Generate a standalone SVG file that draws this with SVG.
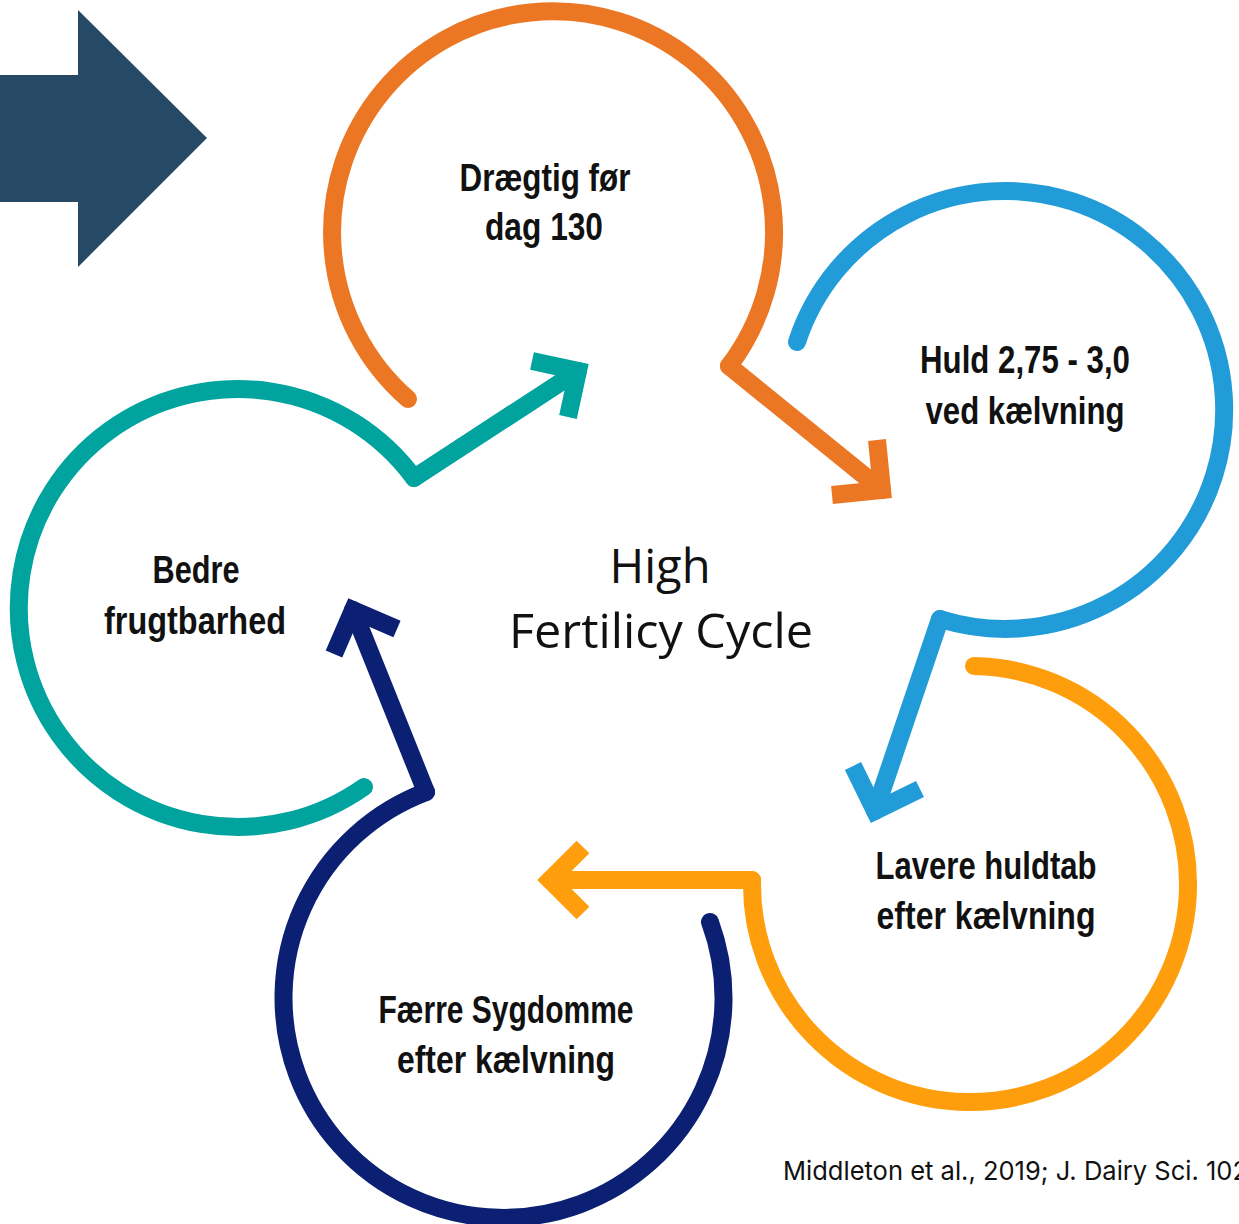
<svg xmlns="http://www.w3.org/2000/svg" width="1239" height="1224" viewBox="0 0 1239 1224">
<style>
.ring{fill:none;stroke-width:18;stroke-linecap:round}
.shaft{fill:none;stroke-width:18;stroke-linecap:round;stroke-linejoin:miter}
.head{fill:none;stroke-width:18;stroke-linecap:butt;stroke-linejoin:miter;stroke-miterlimit:10}
.lbl{font-family:"Liberation Sans Narrow","Liberation Sans",Arial,sans-serif;font-weight:bold;font-size:38px;fill:#111;text-anchor:middle}
.center{font-family:"Open Sans","Noto Sans",sans-serif;font-size:48px;fill:#111;text-anchor:middle}
.cite{font-family:Inter,"Liberation Sans",sans-serif;font-size:26px;fill:#111}
.orange{stroke:#EB7724}.blue{stroke:#219CD9}.gold{stroke:#FF9E0D}.navy{stroke:#0B1F73}.teal{stroke:#00A39D}
</style>
<rect width="1239" height="1224" fill="#fff"/>
<polygon id="big-arrow" points="0,75 78,75 78,10 207,138 78,267 78,202 0,202" fill="#264966"/>

<g id="node-draegtig">
<path class="ring orange" d="M408,399 A221,221 0 1 1 729,366"/>
<text class="lbl" x="545" y="191" textLength="171" lengthAdjust="spacingAndGlyphs">Drægtig før</text>
<text class="lbl" x="544" y="240" textLength="118" lengthAdjust="spacingAndGlyphs">dag 130</text>
</g>

<g id="node-huld">
<path class="ring blue" d="M797,342 A219,219 0 1 1 940,619"/>
<text class="lbl" x="1025" y="373" textLength="210" lengthAdjust="spacingAndGlyphs">Huld 2,75 - 3,0</text>
<text class="lbl" x="1025" y="424" textLength="199" lengthAdjust="spacingAndGlyphs">ved kælvning</text>
</g>

<g id="node-lavere">
<path class="ring gold" d="M974,666 A218,218 0 1 1 752,880"/>
<text class="lbl" x="986" y="879" textLength="221" lengthAdjust="spacingAndGlyphs">Lavere huldtab</text>
<text class="lbl" x="986" y="929" textLength="219" lengthAdjust="spacingAndGlyphs">efter kælvning</text>
</g>

<g id="node-faerre">
<path class="ring navy" d="M710,922 A220,220 0 1 1 426,792"/>
<text class="lbl" x="506" y="1023" textLength="255" lengthAdjust="spacingAndGlyphs">Færre Sygdomme</text>
<text class="lbl" x="506" y="1073" textLength="218" lengthAdjust="spacingAndGlyphs">efter kælvning</text>
</g>

<g id="node-bedre">
<path class="ring teal" d="M364,787 A219,219 0 1 1 414,478"/>
<text class="lbl" x="196" y="583" textLength="87" lengthAdjust="spacingAndGlyphs">Bedre</text>
<text class="lbl" x="195" y="634" textLength="182" lengthAdjust="spacingAndGlyphs">frugtbarhed</text>
</g>

<g id="connectors">
<path class="shaft orange" d="M729,366 L882,490"/>
<path class="head orange" d="M832,495 L882,490 L877,440"/>
<path class="shaft blue" d="M940,619 L875,811"/>
<path class="head blue" d="M853,766 L875,811 L920,789"/>
<path class="shaft gold" d="M752,880 L550,880"/>
<path class="head gold" d="M583,913 L550,880 L583,847"/>
<path class="shaft navy" d="M426,792 L353,610"/>
<path class="head navy" d="M397,629 L353,610 L334,654"/>
<path class="shaft teal" d="M414,478 L578,371"/>
<path class="head teal" d="M568,417 L578,371 L532,361"/>
</g>

<g id="title">
<text class="center" x="660" y="583" textLength="101" lengthAdjust="spacingAndGlyphs">High</text>
<text class="center" x="661" y="648" textLength="304" lengthAdjust="spacingAndGlyphs">Fertilicy Cycle</text>
</g>
<text class="cite" x="783" y="1180" textLength="465" lengthAdjust="spacingAndGlyphs">Middleton et al., 2019; J. Dairy Sci. 102</text>
</svg>
